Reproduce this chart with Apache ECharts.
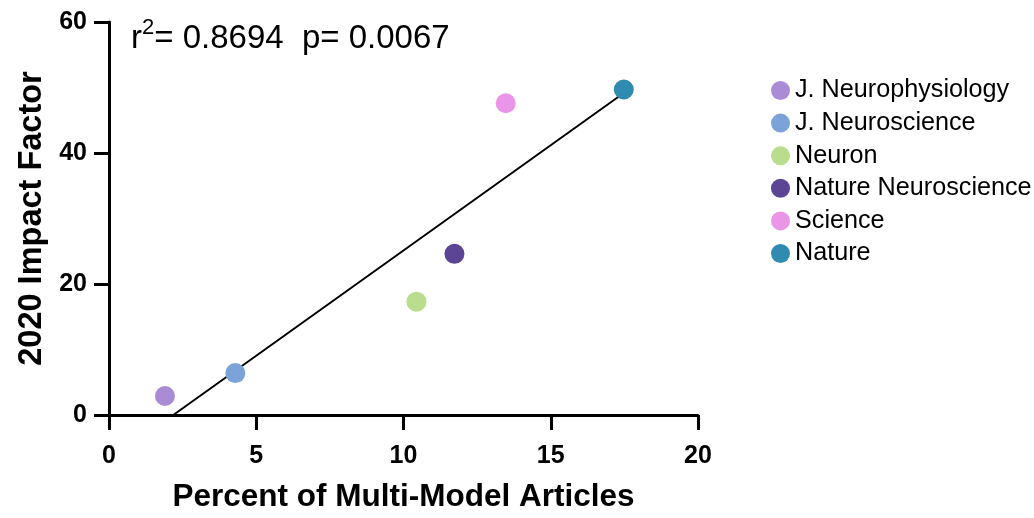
<!DOCTYPE html>
<html>
<head>
<meta charset="utf-8">
<script src="https://cdn.jsdelivr.net/npm/echarts@6/dist/echarts.min.js"></script>
<style>html,body{margin:0;padding:0;background:#fff}#c{width:1034px;height:518px}</style>
</head>
<body>
<div id="c"></div>
<script>
const journals = ['J. Neurophysiology','J. Neuroscience','Neuron','Nature Neuroscience','Science','Nature'];
const percentMultiModel = [1.9, 4.29, 10.44, 11.73, 13.47, 17.48];
const impactFactor = [2.9, 6.4, 17.3, 24.6, 47.6, 49.7];
const colors = ['#a98bd6','#7ba3d8','#b9dd8c','#5b4594','#ea95e8','#2f8bb0'];
const xTicks = [0,5,10,15,20];
const yTicks = [0,20,40,60];
const statR2 = '0.8694';
const statP = '0.0067';

// linear regression from data
const n = percentMultiModel.length;
const mx = percentMultiModel.reduce((a,b)=>a+b,0)/n;
const my = impactFactor.reduce((a,b)=>a+b,0)/n;
let sxy=0,sxx=0;
for(let i=0;i<n;i++){sxy+=(percentMultiModel[i]-mx)*(impactFactor[i]-my);sxx+=(percentMultiModel[i]-mx)**2;}
const slope = sxy/sxx, intercept = my - slope*mx;
const xStart = -intercept/slope;
const xEnd = Math.max(...percentMultiModel);
const fitLine = [[xStart,0],[xEnd,slope*xEnd+intercept]];

const F = '"Liberation Sans", Arial, sans-serif';
const chart = echarts.init(document.getElementById('c'));
const series = journals.map((name,i)=>({
  name, type:'scatter', symbolSize:20,
  itemStyle:{color:colors[i], opacity:1},
  data:[[percentMultiModel[i], impactFactor[i]]], z:3
}));
series.unshift({
  type:'line', data:fitLine, symbol:'none', silent:true,
  lineStyle:{color:'#000', width:2}, z:2
});
chart.setOption({
  animation:false,
  textStyle:{fontFamily:F},
  title:{
    text:'{a|r}{s|2}{a|= '+statR2+'  p= '+statP+'}',
    left:131, top:17, padding:0,
    textStyle:{fontWeight:'normal',rich:{
      a:{fontFamily:F,fontSize:33,fontWeight:'normal',color:'#000',verticalAlign:'bottom',lineHeight:38},
      s:{fontFamily:F,fontSize:22,fontWeight:'normal',color:'#000',verticalAlign:'bottom',lineHeight:22,padding:[0,0,16,0]}
    }}
  },
  grid:{left:109, right:336, top:22, bottom:100},
  legend:{
    orient:'vertical', left:766, top:73, icon:'circle',
    itemWidth:19, itemHeight:19, itemGap:7.6,
    data:journals,
    textStyle:{fontFamily:F,fontSize:25.2,color:'#000',padding:[0,0,0,0]}
  },
  xAxis:{
    type:'value', min:0, max:20, interval:5,
    name:'Percent of Multi-Model Articles', nameLocation:'middle', nameGap:66,
    nameTextStyle:{fontFamily:F,fontSize:31.5,fontWeight:'bold',color:'#000'},
    axisLine:{show:true,onZero:false,lineStyle:{color:'#000',width:3}},
    axisTick:{show:true,length:15,lineStyle:{color:'#000',width:3}},
    axisLabel:{fontFamily:F,fontSize:25,fontWeight:'bold',color:'#000',margin:29,
      formatter:v=>xTicks.includes(v)?String(v):''},
    splitLine:{show:false}
  },
  yAxis:{
    type:'value', min:0, max:60, interval:20,
    name:'2020 Impact Factor', nameLocation:'middle', nameGap:54,
    nameTextStyle:{fontFamily:F,fontSize:32.5,fontWeight:'bold',color:'#000'},
    axisLine:{show:true,onZero:false,lineStyle:{color:'#000',width:3}},
    axisTick:{show:true,length:15,lineStyle:{color:'#000',width:3}},
    axisLabel:{fontFamily:F,fontSize:25,fontWeight:'bold',color:'#000',margin:22,
      formatter:v=>yTicks.includes(v)?String(v):''},
    splitLine:{show:false}
  },
  series
});
</script>
</body>
</html>
